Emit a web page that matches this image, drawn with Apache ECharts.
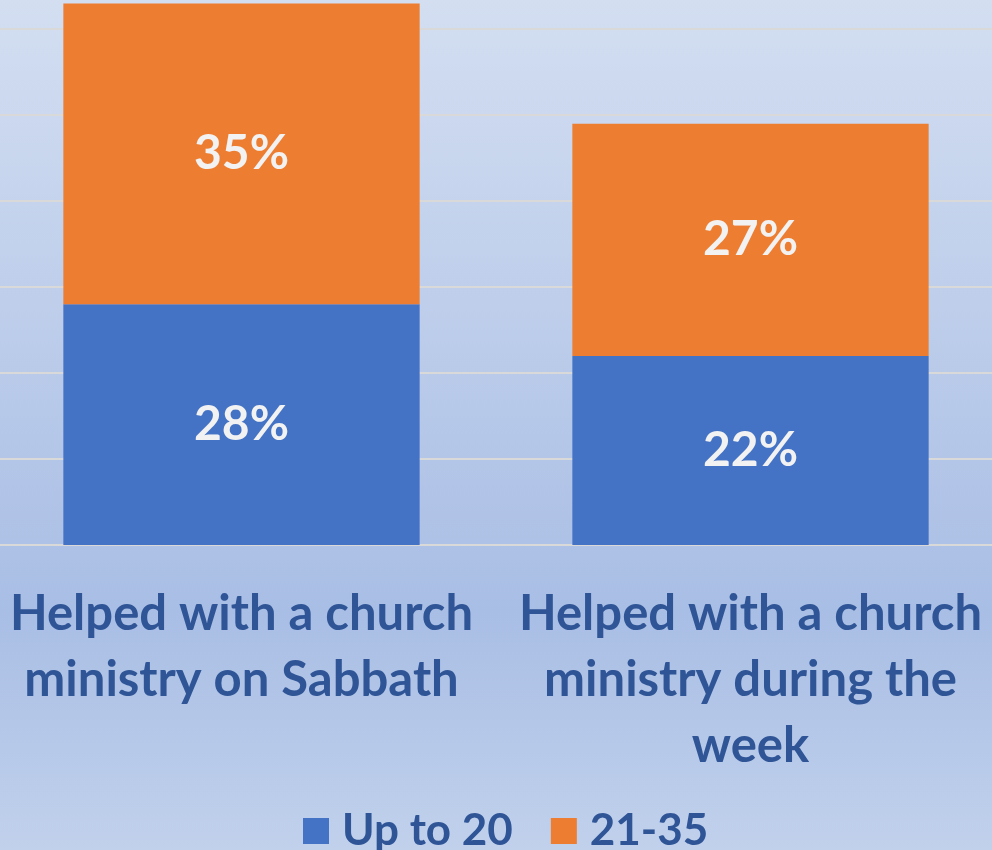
<!DOCTYPE html>
<html>
<head>
<meta charset="utf-8">
<title>Church ministry by age</title>
<script src="https://cdn.jsdelivr.net/npm/echarts@6/dist/echarts.min.js"></script>
<style>
    html, body { margin: 0; padding: 0; overflow: hidden; width: 992px; height: 850px; }
    /* plot area runs a little past both page edges, like the original slide */
    #main { position: absolute; left: -13px; top: 0; width: 1018px; height: 850px; }
</style>
</head>
<body>
<div id="main"></div>
<script>
var categories = [
    'Helped with a church\nministry on Sabbath',
    'Helped with a church\nministry during the\nweek'
];
var legendNames = ['Up to 20', '21-35'];
var upTo20 = [28, 22];
var age21to35 = [35, 27];

var textBlue = '#2f5597';
var fontFamily = 'Lato, "Open Sans", sans-serif';

var chartShow = function () {
    var myChart = echarts.init(document.getElementById('main'));

    var segLabel = {
        show: true,
        position: 'inside',
        formatter: '{c}%',
        color: '#f2f2f2',
        fontFamily: fontFamily,
        fontWeight: 'bold',
        fontSize: 48
    };

    var option = {
        backgroundColor: {
            type: 'linear', x: 0, y: 0, x2: 0, y2: 1,
            colorStops: [
                { offset: 0, color: '#d3def1' },
                { offset: 0.72, color: '#a9bee5' },
                { offset: 1, color: '#c1d1ec' }
            ]
        },
        animation: false,
        legend: {
            data: legendNames,
            top: 804,
            left: 311,
            itemWidth: 26,
            itemHeight: 26,
            itemGap: 38,
            icon: 'rect',
            textStyle: {
                color: textBlue,
                fontFamily: fontFamily,
                fontWeight: 'bold',
                fontSize: 44,
                padding: [0, 0, 0, 8]
            }
        },
        grid: {
            left: 0,
            right: 0,
            top: 0,
            bottom: 305,
            containLabel: false
        },
        xAxis: {
            type: 'category',
            data: categories,
            axisLine: { lineStyle: { color: '#d9d9d9', width: 2 } },
            axisTick: { show: false },
            axisLabel: {
                interval: 0,
                margin: 36,
                color: textBlue,
                fontFamily: fontFamily,
                fontWeight: 'bold',
                fontSize: 49,
                lineHeight: 66
            }
        },
        yAxis: {
            type: 'value',
            min: 0,
            max: 63.4,
            interval: 10,
            axisLabel: { show: false },
            axisLine: { show: false },
            axisTick: { show: false },
            splitLine: {
                showMaxLine: false,
                lineStyle: { color: '#d9d9d9', width: 2 }
            }
        },
        series: [
            {
                name: legendNames[0],
                type: 'bar',
                stack: 'total',
                barWidth: '70%',
                itemStyle: { color: '#4472c4' },
                label: segLabel,
                data: upTo20
            },
            {
                name: legendNames[1],
                type: 'bar',
                stack: 'total',
                itemStyle: { color: '#ed7d31' },
                label: segLabel,
                data: age21to35
            }
        ]
    };

    myChart.setOption(option);
    window.onresize = myChart.resize;
};
chartShow();
</script>
</body>
</html>
